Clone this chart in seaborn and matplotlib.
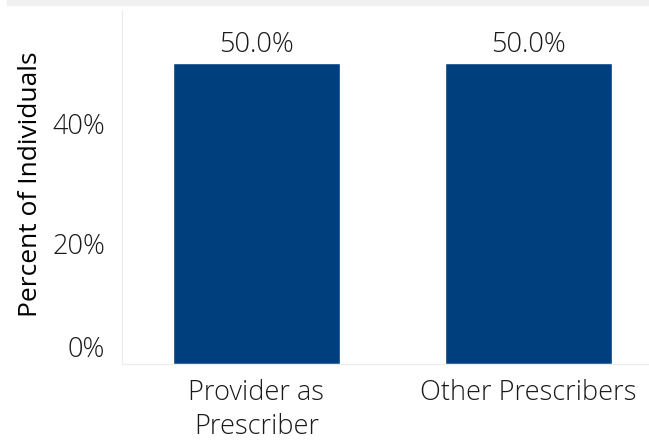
import matplotlib
matplotlib.use("Agg")
import matplotlib.pyplot as plt
import seaborn as sns
import pandas as pd
from matplotlib.patches import Rectangle

# data
categories = ["Provider as\nPrescriber", "Other Prescribers"]
percents = [50.0, 50.0]
y_ticks = [0, 20, 40]
y_tick_labels = ["0%", "20%", "40%"]

df = pd.DataFrame({"group": categories, "pct": percents})

sns.set_style("white")
plt.rcParams["font.family"] = ["Open Sans", "DejaVu Sans"]

fig = plt.figure(figsize=(6.49, 4.41), dpi=100)
ax = fig.add_axes([122 / 649, 1 - 364 / 441, 1 - 122 / 649, 353 / 441])

# thin gray strip across the top
fig.patches.append(Rectangle((7 / 649, 1 - 5 / 441), 1, 5 / 441,
                             transform=fig.transFigure, color="#f0f0f0", zorder=0))

sns.barplot(data=df, x="group", y="pct", color="#003f7d", saturation=1,
            width=0.614, ax=ax)

txt = "#1a1a1a"
fs = 19.5
for i, v in enumerate(percents):
    ax.text(i, v + 0.8, f"{v:.1f}%", ha="center", va="bottom",
            fontsize=fs, color=txt, fontweight="light")

ax.set_xlim(-0.494, 1.443)
ax.set_ylim(0, 58.7)
ax.set_yticks(y_ticks)
ax.set_yticklabels(y_tick_labels)
for lab in ax.get_yticklabels():
    if lab.get_text() == "0%":
        lab.set_va("bottom")
ax.tick_params(axis="y", length=0, pad=12, labelsize=fs, labelcolor=txt)
ax.tick_params(axis="x", length=0, pad=11, labelsize=fs, labelcolor=txt)
for lab in ax.get_xticklabels():
    lab.set_linespacing(1.25)
    lab.set_fontweight("light")
for lab in ax.get_yticklabels():
    lab.set_fontweight("light")

ax.set_xlabel("")
ax.set_ylabel("Percent of Individuals", fontsize=19, color="#000000",
              fontweight="medium")
ax.yaxis.set_label_coords(-0.15, 0.51)

for side in ["top", "right"]:
    ax.spines[side].set_visible(False)
ax.spines["left"].set_color("#ececec")
ax.spines["bottom"].set_color("#ececec")
ax.grid(False)

fig.savefig("out.png", dpi=100)
